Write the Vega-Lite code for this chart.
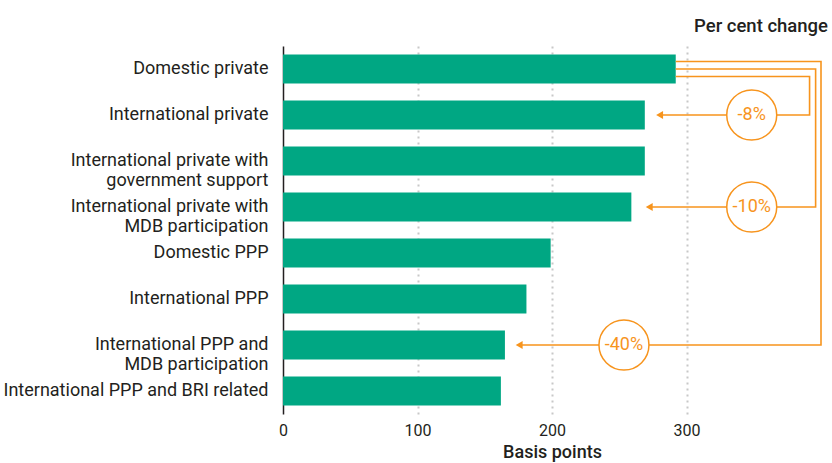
{
  "$schema": "https://vega.github.io/schema/vega-lite/v6.json",
  "width": 538,
  "height": 368,
  "autosize": {"type": "none"},
  "padding": {"left": 283, "top": 46, "right": 11, "bottom": 49},
  "background": "white",
  "config": {
    "font": "Roboto",
    "view": {"stroke": null}
  },
  "title": {
    "text": "Per cent change",
    "anchor": "end",
    "frame": "group",
    "orient": "top",
    "fontSize": 18.5,
    "fontWeight": 500,
    "color": "#231f20",
    "offset": 11,
    "dx": 7
  },
  "datasets": {
    "bars": [
      {"category": "Domestic private", "value": 292},
      {"category": "International private", "value": 269},
      {"category": "International private with government support", "value": 269},
      {"category": "International private with MDB participation", "value": 259},
      {"category": "Domestic PPP", "value": 199},
      {"category": "International PPP", "value": 181},
      {"category": "International PPP and MDB participation", "value": 165},
      {"category": "International PPP and BRI related", "value": 162}
    ],
    "links": [
      {"link": "a", "order": 1, "x": 292, "y": 0.663},
      {"link": "a", "order": 2, "x": 391.5, "y": 0.663},
      {"link": "a", "order": 3, "x": 391.5, "y": 1.5},
      {"link": "a", "order": 4, "x": 280, "y": 1.5},
      {"link": "b", "order": 1, "x": 292, "y": 0.5},
      {"link": "b", "order": 2, "x": 396, "y": 0.5},
      {"link": "b", "order": 3, "x": 396, "y": 3.5},
      {"link": "b", "order": 4, "x": 272.3, "y": 3.5},
      {"link": "c", "order": 1, "x": 292, "y": 0.337},
      {"link": "c", "order": 2, "x": 400, "y": 0.337},
      {"link": "c", "order": 3, "x": 400, "y": 6.5},
      {"link": "c", "order": 4, "x": 175.6, "y": 6.5}
    ],
    "notes": [
      {"label": "-8%", "x": 348.5, "y": 1.5, "tip": 280},
      {"label": "-10%", "x": 348.5, "y": 3.5, "tip": 272.3},
      {"label": "-40%", "x": 253.5, "y": 6.5, "tip": 175.6}
    ]
  },
  "layer": [
    {
      "data": {"name": "bars"},
      "mark": {"type": "bar", "color": "#00a783"},
      "encoding": {
        "y": {
          "field": "category",
          "type": "nominal",
          "sort": null,
          "scale": {"paddingInner": 0.37, "paddingOuter": 0.185},
          "axis": {
            "title": null,
            "ticks": false,
            "grid": false,
            "labelPadding": 15,
            "labelFontSize": 18,
            "labelLineHeight": 20,
            "labelLimit": 400,
            "labelColor": "#231f20",
            "domainColor": "#231f20",
            "domainWidth": 1.5,
            "labelExpr": "datum.label == 'International private with government support' ? ['International private with', 'government support'] : datum.label == 'International private with MDB participation' ? ['International private with', 'MDB participation'] : datum.label == 'International PPP and MDB participation' ? ['International PPP and', 'MDB participation'] : datum.label"
          }
        },
        "x": {
          "field": "value",
          "type": "quantitative",
          "scale": {"domain": [0, 400], "nice": false},
          "axis": {
            "values": [0, 100, 200, 300],
            "title": "Basis points",
            "domain": false,
            "ticks": false,
            "grid": true,
            "gridDash": [2, 4],
            "gridColor": "#c8c8c8",
            "gridWidth": 2,
            "gridOpacity": {"condition": {"test": "datum.value === 0", "value": 0}, "value": 1},
            "labelFlush": false,
            "labelFontSize": 16,
            "labelColor": "#231f20",
            "labelPadding": 8,
            "titleFontSize": 18,
            "titleFontWeight": 500,
            "titleColor": "#231f20",
            "titlePadding": 5
          }
        }
      }
    },
    {
      "data": {"name": "links"},
      "mark": {"type": "line", "color": "#f7941d", "strokeWidth": 1.6, "strokeJoin": "miter", "strokeCap": "butt"},
      "encoding": {
        "x": {"field": "x", "type": "quantitative"},
        "y": {"field": "y", "type": "quantitative", "scale": {"domain": [0, 8], "reverse": true, "nice": false, "zero": false}, "axis": null},
        "detail": {"field": "link"},
        "order": {"field": "order"}
      }
    },
    {
      "data": {"name": "notes"},
      "mark": {"type": "point", "shape": "triangle-left", "size": 64, "filled": true, "color": "#f7941d", "opacity": 1},
      "encoding": {
        "x": {"field": "tip", "type": "quantitative"},
        "y": {"field": "y", "type": "quantitative", "scale": {"domain": [0, 8], "reverse": true, "nice": false, "zero": false}, "axis": null}
      }
    },
    {
      "data": {"name": "notes"},
      "mark": {"type": "point", "shape": "circle", "size": 2500, "fill": "white", "stroke": "#f7941d", "strokeWidth": 1.5, "opacity": 1, "fillOpacity": 1},
      "encoding": {
        "x": {"field": "x", "type": "quantitative"},
        "y": {"field": "y", "type": "quantitative", "scale": {"domain": [0, 8], "reverse": true, "nice": false, "zero": false}, "axis": null}
      }
    },
    {
      "data": {"name": "notes"},
      "mark": {"type": "text", "fontSize": 18, "color": "#f7941d", "align": "center", "baseline": "middle"},
      "encoding": {
        "x": {"field": "x", "type": "quantitative"},
        "y": {"field": "y", "type": "quantitative", "scale": {"domain": [0, 8], "reverse": true, "nice": false, "zero": false}, "axis": null},
        "text": {"field": "label"}
      }
    }
  ],
  "resolve": {"scale": {"y": "independent"}}
}
